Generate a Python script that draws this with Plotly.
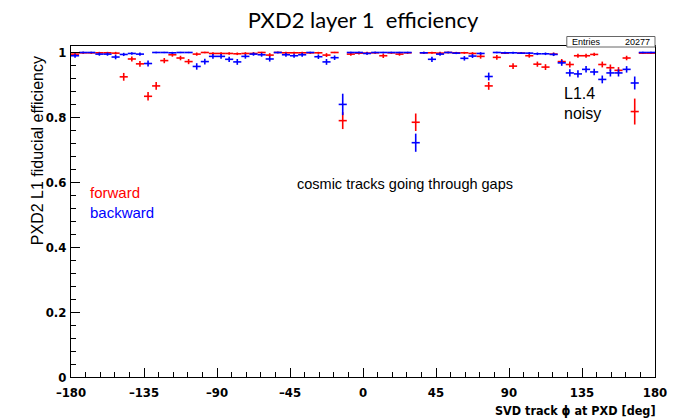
import plotly.graph_objects as go

# ---------------- data ----------------
bin_width = 5.0
phi_edges_lo = list(range(-180, 180, 5))
phi = [e + bin_width / 2 for e in phi_edges_lo]  # 72 bin centres

eff_forward = [
    0.995, 0.999, 0.999, 0.999, 0.999, 0.998, 0.925, 0.980, 0.965, 0.865,
    0.897, 0.975, 0.993, 0.983, 0.972, 0.995, 1.000, 0.997, 0.997, 0.997,
    0.996, 0.997, 0.997, 1.000, 0.992, 1.000, 0.999, 0.999, 0.999, 0.999,
    0.999, 0.992, 1.000, 0.790, 0.995, 0.998, 0.998, 0.999, 0.990, 0.999,
    0.995, 0.999, 0.785, 0.999, 0.999, 0.998, 1.000, 0.999, 0.999, 0.997,
    0.988, 0.897, 0.985, 0.998, 0.958, 0.998, 0.990, 0.964, 0.955, 0.995,
    0.972, 0.963, 0.990, 0.990, 0.994, 0.963, 0.953, 0.945, 0.983, 0.818,
    0.998, 0.998,
]
err_forward = [
    0.006, 0.003, 0.003, 0.003, 0.003, 0.004, 0.012, 0.008, 0.009, 0.013,
    0.012, 0.008, 0.006, 0.007, 0.008, 0.005, 0.002, 0.004, 0.004, 0.004,
    0.004, 0.004, 0.004, 0.002, 0.006, 0.002, 0.003, 0.003, 0.003, 0.003,
    0.003, 0.006, 0.002, 0.026, 0.005, 0.004, 0.004, 0.003, 0.007, 0.003,
    0.005, 0.003, 0.027, 0.003, 0.003, 0.004, 0.002, 0.003, 0.003, 0.004,
    0.007, 0.012, 0.007, 0.003, 0.009, 0.003, 0.006, 0.008, 0.009, 0.005,
    0.008, 0.009, 0.006, 0.006, 0.005, 0.009, 0.010, 0.010, 0.007, 0.040,
    0.003, 0.003,
]
eff_backward = [
    0.990, 1.000, 1.000, 0.995, 0.995, 0.986, 0.994, 0.997, 0.995, 0.966,
    1.000, 1.000, 0.999, 1.000, 1.000, 0.957, 0.972, 0.988, 0.988, 0.979,
    0.971, 0.988, 0.995, 0.993, 0.980, 1.000, 0.993, 0.990, 0.993, 1.000,
    0.987, 0.971, 0.984, 0.840, 1.000, 1.000, 0.997, 1.000, 1.000, 1.000,
    1.000, 1.000, 0.722, 0.999, 0.979, 0.995, 1.000, 0.998, 0.982, 0.989,
    0.997, 0.926, 1.000, 0.999, 0.999, 0.998, 0.998, 0.996, 0.996, 0.994,
    0.968, 0.937, 0.934, 0.948, 0.940, 0.917, 0.937, 0.937, 0.948, 0.906,
    1.000, 1.000,
]
err_backward = [
    0.006, 0.002, 0.002, 0.005, 0.005, 0.007, 0.005, 0.004, 0.005, 0.009,
    0.002, 0.002, 0.003, 0.002, 0.002, 0.010, 0.009, 0.007, 0.007, 0.008,
    0.009, 0.007, 0.005, 0.006, 0.008, 0.002, 0.006, 0.006, 0.006, 0.002,
    0.007, 0.009, 0.007, 0.033, 0.002, 0.002, 0.004, 0.002, 0.002, 0.002,
    0.002, 0.002, 0.028, 0.003, 0.008, 0.005, 0.002, 0.003, 0.007, 0.006,
    0.004, 0.012, 0.002, 0.003, 0.003, 0.003, 0.003, 0.004, 0.004, 0.005,
    0.009, 0.011, 0.011, 0.010, 0.010, 0.012, 0.011, 0.011, 0.010, 0.020,
    0.002, 0.002,
]

x_ticks = [-180, -135, -90, -45, 0, 45, 90, 135, 180]
x_ticktext = ["\u2013180", "\u2013135", "\u201390", "\u201345", "0", "45", "90", "135", "180"]
y_ticks = [0, 0.2, 0.4, 0.6, 0.8, 1]
y_ticktext = ["0", "0.2", "0.4", "0.6", "0.8", "1"]
entries = "20277"

# ---------------- layout helpers ----------------
L, R, T, B = 71, 667, 46, 377
W, H = R - L, B - T


def px(xp):
    return (xp - L) / W


def py(yp):
    return (B - yp) / H


RED = "#ff0000"
BLUE = "#0000ff"
NARROW = "DejaVu Sans Condensed, Liberation Sans Narrow, Liberation Sans, sans-serif"

fig = go.Figure()
for y, e, col, name in [(eff_forward, err_forward, RED, "forward"),
                        (eff_backward, err_backward, BLUE, "backward")]:
    fig.add_trace(go.Scatter(
        x=phi, y=y, mode="markers", name=name,
        marker=dict(size=1, color=col),
        error_x=dict(type="constant", value=bin_width / 2, color=col,
                     thickness=1.6, width=0),
        error_y=dict(type="data", array=e, color=col, thickness=1.6, width=0),
        showlegend=False, hoverinfo="x+y",
    ))

tickfont = dict(family=NARROW, size=13, color="black", weight="bold")

fig.update_layout(
    width=679, height=419, autosize=False,
    margin=dict(l=L, r=679 - R, t=T, b=419 - B),
    paper_bgcolor="white", plot_bgcolor="white",
    title=dict(text="PXD2 layer 1  efficiency", x=px(369), xref="paper",
               xanchor="center", y=1 - 20 / 419, yref="container",
               yanchor="middle",
               font=dict(family="Lato, Open Sans, sans-serif", size=22,
                         color="black")),
    xaxis=dict(range=[-180, 180], tickvals=x_ticks, ticktext=x_ticktext,
               ticks="inside", ticklen=9, tickcolor="black", tickwidth=1,
               ticklabeloverflow="allow", ticklabelstandoff=3,
               minor=dict(dtick=9, tick0=-180, ticks="inside", ticklen=5,
                          tickcolor="black", tickwidth=1),
               showline=True, linecolor="black", linewidth=1, mirror=True,
               showgrid=False, zeroline=False, tickfont=tickfont),
    yaxis=dict(range=[0, 1.02], tickvals=y_ticks, ticktext=y_ticktext,
               ticks="inside", ticklen=9, tickcolor="black", tickwidth=1,
               ticklabelstandoff=1,
               minor=dict(dtick=0.04, tick0=0, ticks="inside", ticklen=5,
                          tickcolor="black", tickwidth=1),
               showline=True, linecolor="black", linewidth=1, mirror=True,
               showgrid=False, zeroline=False, tickfont=tickfont),
)

ann_font = dict(family="Liberation Sans, Arial, sans-serif", size=15)
annotations = [
    dict(text="PXD2 L1 fiducial efficiency", x=px(37), y=py(54),
         xanchor="center", yanchor="top", textangle=-90,
         font=dict(family="Liberation Sans, Arial, sans-serif", size=16,
                   color="black")),
    dict(text="SVD track \u03d5 at PXD [deg]", x=px(670), y=py(410),
         xanchor="right", yanchor="middle",
         font=dict(family=NARROW, size=12.5, color="black", weight="bold")),
    dict(text="forward", x=px(88), y=py(192), xanchor="left",
         yanchor="middle", font=dict(ann_font, color=RED)),
    dict(text="backward", x=px(88), y=py(212), xanchor="left",
         yanchor="middle", font=dict(ann_font, color=BLUE)),
    dict(text="cosmic tracks going through gaps", x=px(412), y=py(184),
         xanchor="center", yanchor="middle",
         font=dict(family="Liberation Sans, Arial, sans-serif", size=14.5,
                   color="black")),
    dict(text="L1.4", x=px(572), y=py(93), xanchor="left", yanchor="middle",
         font=dict(family="Liberation Sans, Arial, sans-serif", size=16,
                   color="black")),
    dict(text="noisy", x=px(572), y=py(114), xanchor="left", yanchor="middle",
         font=dict(family="Liberation Sans, Arial, sans-serif", size=16,
                   color="black")),
    dict(text="Entries", x=px(580), y=py(41.5), xanchor="left",
         yanchor="middle",
         font=dict(family="Liberation Sans, Arial, sans-serif", size=9,
                   color="black")),
    dict(text=entries, x=px(664), y=py(41.5), xanchor="right",
         yanchor="middle",
         font=dict(family="Liberation Sans, Arial, sans-serif", size=9,
                   color="black")),
]
for a in annotations:
    a.update(xref="paper", yref="paper", showarrow=False)
fig.update_layout(annotations=annotations)

fig.add_shape(type="rect", xref="paper", yref="paper",
              x0=px(577), x1=px(667), y0=py(47), y1=py(36.5),
              line=dict(color="#666666", width=1), fillcolor="white",
              layer="above")

fig.write_html("out.html", config={"responsive": False})
